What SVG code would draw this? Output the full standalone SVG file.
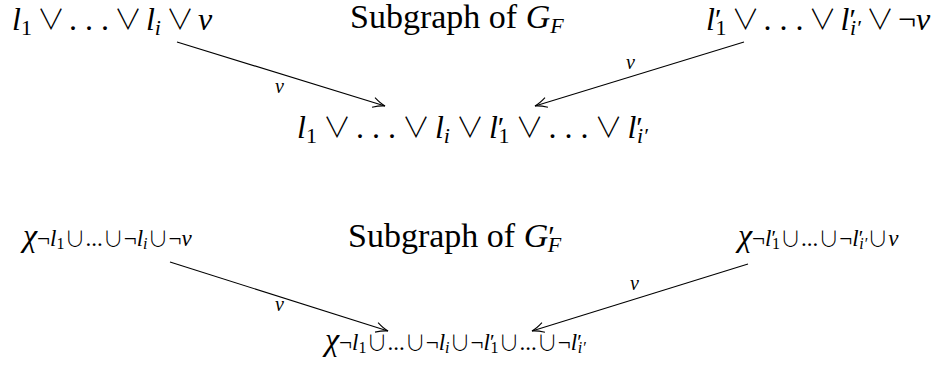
<svg xmlns="http://www.w3.org/2000/svg" width="942" height="371" viewBox="0 0 942 371">
<style>
text{font-family:"Liberation Serif","DejaVu Serif",serif;fill:#000}
.m{font-size:32px}
.t{font-size:34px}
.i{font-style:italic}
.s{font-size:22px}
.sb{font-size:23px}
.ss{font-size:16px}
.u{font-family:"Noto Sans CJK JP",sans-serif;font-weight:300;font-style:normal;font-size:28px}
.c{font-family:"Noto Sans CJK JP",sans-serif;font-weight:300;font-size:21px}
.lbl{font-size:20px;font-style:italic}
.e{stroke:#000;stroke-width:1.1;fill:none}
</style>
<defs>
<marker id="ah" markerUnits="userSpaceOnUse" markerWidth="16" markerHeight="16" viewBox="-14 -8 16 16" refX="0" refY="0" orient="auto">
<path d="M-12,-5 Q-5,-1 0,0 Q-5,1 -12,5" fill="none" stroke="#000" stroke-width="1.1"/>
</marker>
</defs>
<rect width="942" height="371" fill="#fff"/>
<g id="edges">
<line class="e" x1="177" y1="42" x2="385" y2="106" marker-end="url(#ah)"/>
<line class="e" x1="744" y1="42" x2="535" y2="106" marker-end="url(#ah)"/>
<line class="e" x1="170" y1="262" x2="388" y2="331" marker-end="url(#ah)"/>
<line class="e" x1="748" y1="264" x2="532" y2="331" marker-end="url(#ah)"/>
<text class="lbl" x="275" y="93">v</text>
<text class="lbl" x="626" y="69">v</text>
<text class="lbl" x="275" y="311">v</text>
<text class="lbl" x="630" y="290">v</text>
</g>
<g id="n1">
<text class="m" x="12" y="30"><tspan class="i">l</tspan><tspan class="s" dy="5">1</tspan><tspan dy="-5" dx="5" class="u">∨</tspan><tspan dx="4">. . .</tspan><tspan dx="5" class="u">∨</tspan><tspan dx="4" class="i">l</tspan><tspan class="s i" dy="5">i</tspan><tspan dy="-5" dx="5" class="u">∨</tspan><tspan dx="4" class="i">v</tspan></text>
</g>
<g id="title1">
<text class="t" x="350" y="28">Subgraph of <tspan class="i">G</tspan><tspan class="s i" dy="5">F</tspan></text>
</g>
<g id="n2">
<text class="m" x="706" y="30"><tspan class="i">l</tspan><tspan font-size="30" dy="-1">′</tspan><tspan class="s" dx="-6" dy="6">1</tspan><tspan dy="-5" dx="5" class="u">∨</tspan><tspan dx="4">. . .</tspan><tspan dx="5" class="u">∨</tspan><tspan dx="4" class="i">l</tspan><tspan font-size="30" dy="-1">′</tspan><tspan class="s i" dx="-6" dy="6">i′</tspan><tspan dy="-5" dx="5" class="u">∨</tspan><tspan dx="4">¬</tspan><tspan class="i">v</tspan></text>
</g>
<g id="n3">
<text class="m" x="297" y="138"><tspan class="i">l</tspan><tspan class="s" dy="5">1</tspan><tspan dy="-5" dx="6" class="u">∨</tspan><tspan dx="5">. . .</tspan><tspan dx="6" class="u">∨</tspan><tspan dx="5" class="i">l</tspan><tspan class="s i" dy="5">i</tspan><tspan dy="-5" dx="6" class="u">∨</tspan><tspan dx="5" class="i">l</tspan><tspan font-size="30" dy="-1">′</tspan><tspan class="s" dx="-6" dy="6">1</tspan><tspan dy="-5" dx="6" class="u">∨</tspan><tspan dx="5">. . .</tspan><tspan dx="6" class="u">∨</tspan><tspan dx="5" class="i">l</tspan><tspan font-size="30" dy="-1">′</tspan><tspan class="s i" dx="-6" dy="6">i′</tspan></text>
</g>
<g id="n4">
<text class="m" x="23" y="246"><tspan class="i">χ</tspan><tspan class="sb">¬<tspan class="i">l</tspan><tspan class="ss" dy="3">1</tspan><tspan dy="-3" class="c">∪</tspan>...<tspan class="c">∪</tspan>¬<tspan class="i">l</tspan><tspan class="ss i" dy="3">i</tspan><tspan dy="-3" class="c">∪</tspan>¬<tspan class="i">v</tspan></tspan></text>
</g>
<g id="title2">
<text class="t" x="348" y="247">Subgraph of <tspan class="i">G</tspan><tspan font-size="30" dy="-1">′</tspan><tspan class="s i" dx="-7" dy="6">F</tspan></text>
</g>
<g id="n5">
<text class="m" x="738" y="246"><tspan class="i">χ</tspan><tspan class="sb">¬<tspan class="i">l</tspan><tspan font-size="21" dy="-1">′</tspan><tspan class="ss" dx="-4" dy="4">1</tspan><tspan dy="-3" class="c">∪</tspan>...<tspan class="c">∪</tspan>¬<tspan class="i">l</tspan><tspan font-size="21" dy="-1">′</tspan><tspan class="ss i" dx="-4" dy="4">i′</tspan><tspan dy="-3" class="c">∪</tspan><tspan class="i">v</tspan></tspan></text>
</g>
<g id="n6">
<text class="m" x="325" y="350"><tspan class="i">χ</tspan><tspan class="sb">¬<tspan class="i">l</tspan><tspan class="ss" dy="3">1</tspan><tspan dy="-3" class="c">∪</tspan>...<tspan class="c">∪</tspan>¬<tspan class="i">l</tspan><tspan class="ss i" dy="3">i</tspan><tspan dy="-3" class="c">∪</tspan>¬<tspan class="i">l</tspan><tspan font-size="21" dy="-1">′</tspan><tspan class="ss" dx="-4" dy="4">1</tspan><tspan dy="-3" class="c">∪</tspan>...<tspan class="c">∪</tspan>¬<tspan class="i">l</tspan><tspan font-size="21" dy="-1">′</tspan><tspan class="ss i" dx="-4" dy="4">i′</tspan></tspan></text>
</g>
</svg>
